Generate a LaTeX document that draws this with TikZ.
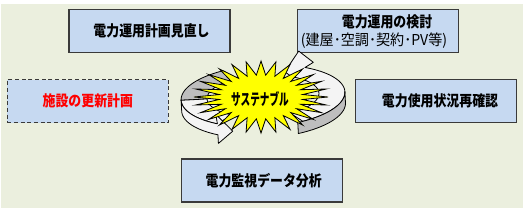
\documentclass[tikz,border=0pt]{standalone}
\usepackage{fontspec}
\setmainfont{Noto Sans CJK JP}[FakeStretch=0.86]
\newfontfamily\jpwide{Noto Sans CJK JP}[FakeStretch=0.94]
\definecolor{bgc}{HTML}{EBEFDE}
\definecolor{boxblue}{HTML}{C6D9F1}
\definecolor{boxline}{HTML}{3A3A3A}
\definecolor{ringgray}{HTML}{BEBEBE}
\definecolor{ringwhite}{HTML}{F4F4F4}
\definecolor{stary}{HTML}{FFFF00}
\definecolor{redtxt}{HTML}{FF0000}
\begin{document}
\begin{tikzpicture}[x=0.75pt,y=-0.75pt,
  box/.style={draw=boxline, fill=boxblue, line width=0.9pt, minimum width=120.75pt, minimum height=32.25pt, inner sep=0pt,
    font=\bfseries\fontsize{11.25pt}{12pt}\selectfont},
  dashbox/.style={box, dash pattern=on 3pt off 2pt},
  txt/.style={inner sep=0pt, font=\fontsize{11.25pt}{12pt}\selectfont},
  ringline/.style={draw=black, line width=0.6pt, line join=round}]
\useasboundingbox (0,0) rectangle (527,211);
\fill[bgc] (1,4) rectangle (523,208);

% boxes
\node[box] (plan) at (149.5,31) {\hspace{3pt}電力運用計画見直し};
\node[box] (study) at (377.7,31) {};
\node[txt, font=\bfseries\fontsize{11.25pt}{12pt}\selectfont] (studyA) at (387,21.5) {電力運用の検討};
\node[txt, font=\jpwide\fontsize{11.25pt}{12pt}\selectfont] (studyB) at (374,40.5) {(建屋･空調･契約･PV等)};
\node[dashbox, text=redtxt] (renew) at (87.8,101) {施設の更新計画};
\node[box] (usage) at (436,101) {\hspace{6pt}電力使用状況再確認};
\node[box] (monitor) at (261.7,180.5) {\hspace{3pt}電力監視データ分析};

% ring of two arrows
\begin{scope}[rotate around={3:(263,96)}]
  % left arrow: top face (back part, gray)
  \filldraw[ringline, fill=ringgray]
    plot[domain=242:180,samples=30] ({263+82*cos(\x)},{96+31*sin(\x)})
    -- plot[domain=180:242,samples=30] ({263+56*cos(\x)},{96+21*sin(\x)}) -- cycle;
  % left arrow: top face (front part)
  \filldraw[ringline, fill=ringwhite]
    plot[domain=180:125,samples=30] ({263+82*cos(\x)},{96+31*sin(\x)})
    -- plot[domain=125:180,samples=30] ({263+56*cos(\x)},{96+21*sin(\x)}) -- cycle;
  % right arrow: top face (white) with head
  \filldraw[ringline, fill=ringwhite]
    plot[domain=62:-58,samples=50] ({263+82*cos(\x)},{96+31*sin(\x)})
    -- (315,65) -- (301,53) -- (286,73)
    -- plot[domain=-58:62,samples=50] ({263+56*cos(\x)},{96+21*sin(\x)}) -- cycle;
  % left arrow: side face (white) with head
  \filldraw[ringline, fill=ringwhite]
    plot[domain=180:125,samples=30] ({263+82*cos(\x)},{96+31*sin(\x)})
    -- (215,112) -- (231,129.5) -- (216,141)
    -- plot[domain=125:180,samples=30] ({263+82*cos(\x)},{107+31*sin(\x)}) -- cycle;
  % right arrow: side face (gray)
  \filldraw[ringline, fill=ringgray]
    plot[domain=0:66,samples=30] ({263+82*cos(\x)},{96+31*sin(\x)})
    -- plot[domain=66:0,samples=30] ({263+82*cos(\x)},{107+31*sin(\x)}) -- cycle;
\end{scope}

% starburst
\filldraw[draw=black, line width=0.6pt, fill=stary, line join=miter]
  ({261+67},{97}) \foreach \i in {1,...,55} {
    -- ({261+(67-25*mod(\i,2))*cos(\i*6.428571)},{97+(36-14*mod(\i,2))*sin(\i*6.428571)}) } -- cycle;
\node[inner sep=0pt, font=\bfseries\fontsize{12pt}{13pt}\selectfont, xscale=0.7] (sust) at (260,99) {サステナブル};
\end{tikzpicture}
\end{document}
